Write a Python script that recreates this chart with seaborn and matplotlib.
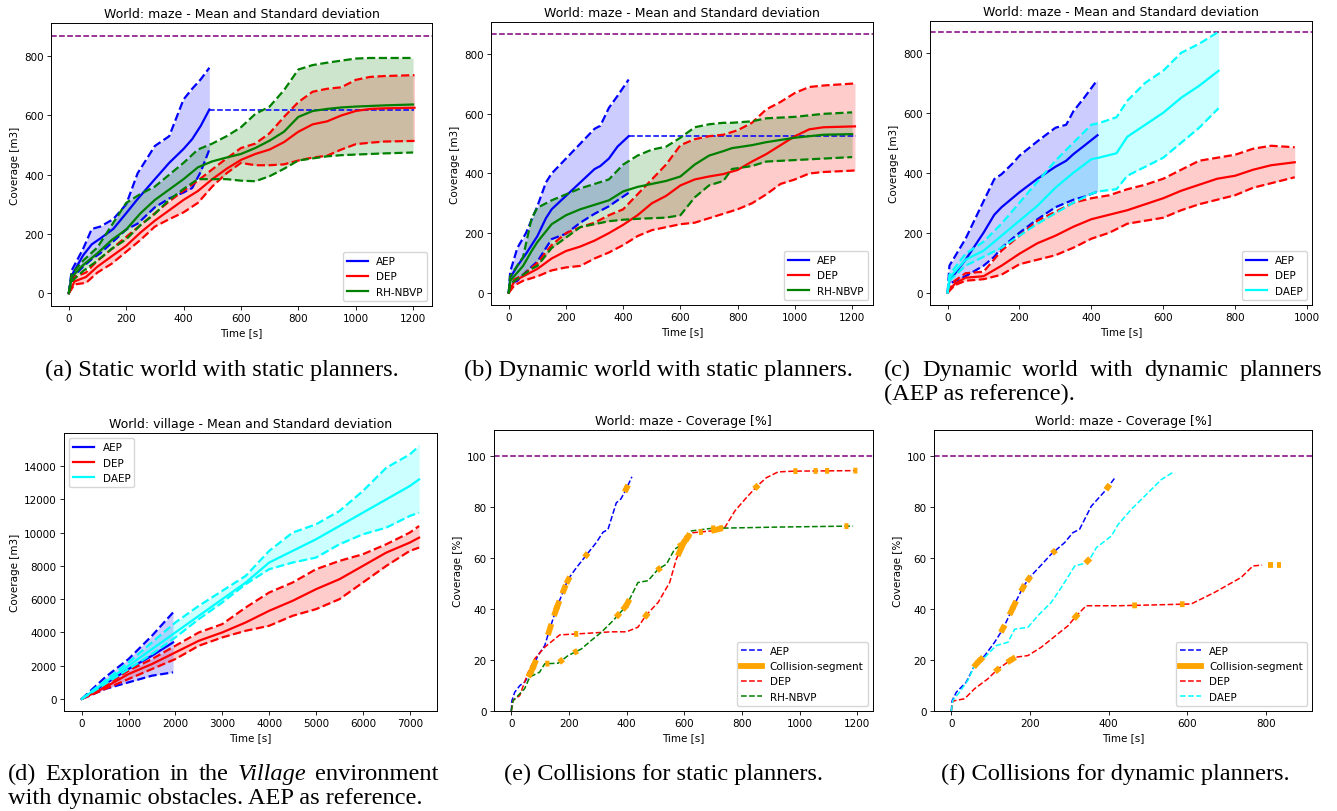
import numpy as np
import matplotlib
matplotlib.use("Agg")
import matplotlib.pyplot as plt
from matplotlib.lines import Line2D
import seaborn as sns

# ------------------------------------------------------------------ data
GOAL_M3 = 868
GOAL_PCT = 100

# (a) static world, static planners  (mean / upper / lower of coverage [m3])
a_aep_t = [0, 10, 50, 80, 110, 155, 200, 240, 300, 350, 400, 430, 460, 490]
a_aep_m = [0, 60, 128, 165, 185, 217, 270, 318, 385, 440, 487, 520, 565, 620]
a_aep_u = [0, 77, 150, 217, 225, 250, 300, 405, 497, 530, 654, 690, 722, 761]
a_aep_l = [0, 50, 90, 115, 135, 175, 215, 235, 290, 320, 340, 355, 410, 485]
a_aep_ext_t = [490, 1205]
a_aep_ext_v = [620, 620]

a_dep_t = [0, 20, 60, 100, 150, 200, 250, 300, 350, 400, 450, 500, 550, 600, 650, 700, 750, 800, 850, 900, 950, 1000, 1050, 1100, 1205]
a_dep_m = [0, 40, 55, 90, 125, 160, 205, 245, 280, 315, 345, 385, 420, 450, 470, 485, 510, 545, 570, 580, 600, 615, 622, 624, 626]
a_dep_u = [0, 55, 70, 110, 150, 190, 230, 270, 310, 346, 380, 418, 455, 490, 505, 540, 595, 645, 680, 690, 695, 720, 730, 733, 736]
a_dep_l = [0, 30, 35, 70, 100, 140, 180, 225, 250, 273, 305, 360, 405, 440, 432, 432, 435, 448, 458, 464, 485, 503, 508, 512, 514]

a_rh_t = [0, 10, 50, 100, 150, 200, 250, 300, 350, 400, 450, 500, 550, 600, 650, 700, 750, 800, 850, 900, 950, 1000, 1050, 1100, 1200]
a_rh_m = [0, 55, 95, 135, 180, 215, 270, 315, 350, 385, 425, 445, 458, 470, 490, 515, 545, 595, 615, 622, 627, 630, 632, 634, 637]
a_rh_u = [0, 65, 110, 155, 230, 305, 335, 360, 400, 440, 485, 505, 530, 560, 605, 630, 685, 755, 770, 778, 785, 792, 794, 794, 794]
a_rh_l = [0, 40, 75, 110, 150, 182, 230, 268, 315, 352, 385, 385, 385, 380, 378, 395, 420, 448, 455, 462, 466, 468, 470, 472, 475]

# (b) dynamic world, static planners
b_aep_t = [0, 5, 30, 60, 100, 130, 150, 200, 250, 300, 320, 350, 380, 419]
b_aep_m = [0, 50, 90, 130, 190, 250, 280, 325, 370, 415, 425, 450, 490, 525]
b_aep_u = [0, 70, 150, 200, 290, 370, 400, 450, 500, 550, 560, 620, 660, 715]
b_aep_l = [0, 30, 40, 70, 105, 150, 180, 198, 235, 265, 275, 290, 310, 335]
b_aep_ext_t = [419, 1212]
b_aep_ext_v = [525, 525]

b_dep_t = [0, 20, 50, 100, 150, 200, 250, 300, 350, 400, 450, 500, 550, 600, 650, 700, 750, 800, 850, 900, 950, 1000, 1050, 1100, 1210]
b_dep_m = [0, 40, 55, 80, 115, 140, 155, 175, 200, 228, 260, 300, 325, 360, 380, 390, 398, 412, 440, 465, 495, 525, 548, 555, 558]
b_dep_u = [0, 45, 60, 100, 160, 200, 220, 235, 260, 280, 330, 380, 430, 495, 515, 525, 530, 545, 570, 615, 640, 670, 690, 695, 702]
b_dep_l = [0, 25, 40, 55, 75, 85, 90, 115, 135, 160, 190, 210, 220, 230, 235, 250, 265, 280, 300, 330, 365, 380, 400, 405, 410]

b_rh_t = [0, 5, 50, 80, 100, 150, 200, 250, 300, 350, 400, 450, 500, 550, 600, 650, 700, 750, 780, 850, 900, 1000, 1100, 1200]
b_rh_m = [0, 40, 90, 140, 170, 230, 260, 280, 295, 310, 340, 355, 365, 375, 390, 430, 460, 475, 485, 495, 505, 520, 530, 532]
b_rh_u = [0, 55, 120, 250, 285, 310, 330, 350, 365, 380, 430, 460, 480, 490, 520, 555, 565, 570, 570, 575, 585, 590, 600, 605]
b_rh_l = [0, 30, 60, 80, 90, 150, 185, 220, 230, 240, 245, 248, 250, 252, 260, 320, 360, 375, 415, 425, 440, 445, 450, 455]

# (c) dynamic world, dynamic planners
c_aep_t = [0, 5, 50, 100, 130, 150, 180, 200, 250, 300, 330, 350, 380, 417]
c_aep_m = [0, 40, 110, 200, 260, 285, 315, 335, 380, 420, 440, 462, 490, 525]
c_aep_u = [0, 90, 180, 305, 379, 395, 430, 457, 505, 550, 560, 605, 650, 710]
c_aep_l = [0, 30, 55, 90, 120, 150, 180, 200, 245, 285, 300, 310, 320, 337]

c_dep_t = [0, 20, 50, 100, 150, 200, 250, 300, 350, 400, 450, 500, 550, 600, 650, 700, 750, 800, 850, 900, 966]
c_dep_m = [0, 30, 50, 55, 90, 130, 165, 190, 220, 245, 260, 275, 295, 315, 340, 360, 380, 390, 410, 425, 435]
c_dep_u = [0, 40, 65, 70, 140, 190, 240, 270, 300, 315, 325, 345, 360, 380, 410, 440, 450, 460, 480, 490, 485]
c_dep_l = [0, 25, 40, 45, 60, 95, 110, 125, 150, 180, 200, 230, 240, 250, 275, 295, 310, 325, 350, 365, 385]

c_daep_t = [0, 5, 50, 100, 150, 200, 250, 300, 350, 400, 420, 470, 500, 550, 600, 650, 700, 754]
c_daep_m = [0, 50, 110, 140, 190, 240, 290, 350, 400, 445, 450, 465, 520, 560, 600, 650, 690, 740]
c_daep_u = [0, 60, 130, 170, 230, 300, 370, 440, 500, 560, 565, 585, 640, 700, 740, 800, 830, 870]
c_daep_l = [0, 40, 90, 120, 150, 190, 230, 265, 300, 330, 338, 345, 390, 420, 450, 500, 550, 615]

# (d) village world
d_aep_t = [0, 500, 1000, 1500, 1950]
d_aep_m = [0, 900, 1800, 2600, 3400]
d_aep_u = [0, 1300, 2400, 3800, 5200]
d_aep_l = [0, 600, 1000, 1400, 1600]

d_t = [0, 500, 1000, 1500, 2000, 2500, 3000, 3500, 4000, 4500, 5000, 5500, 6000, 6500, 7000, 7200]
d_dep_m = [0, 700, 1500, 2100, 2800, 3500, 4000, 4600, 5300, 5900, 6600, 7200, 8000, 8800, 9400, 9700]
d_dep_u = [0, 800, 1700, 2400, 3200, 4000, 4500, 5500, 6400, 7000, 7800, 8300, 8700, 9300, 10000, 10400]
d_dep_l = [0, 600, 1200, 1800, 2400, 3200, 3700, 4100, 4400, 5000, 5400, 6000, 7000, 8000, 8900, 9100]
d_daep_m = [0, 1000, 2000, 3000, 4000, 5000, 6000, 7000, 8200, 8900, 9600, 10400, 11200, 12000, 12800, 13200]
d_daep_u = [0, 1100, 2200, 3400, 4600, 5600, 6500, 7400, 8900, 10000, 10500, 11300, 12500, 13900, 14700, 15200]
d_daep_l = [0, 900, 1800, 2700, 3700, 4800, 5800, 6900, 7800, 8200, 8500, 9300, 9900, 10300, 11000, 11200]

# (e) collisions, static planners (coverage %)
e_aep_t = [0, 2, 12, 30, 46, 69, 92, 116, 133, 156, 183, 197, 225, 260, 295, 318, 335, 364, 380, 399, 418]
e_aep_v = [0, 4, 7.4, 10, 11.3, 15.2, 21.7, 25.6, 32, 40, 47.7, 51.6, 56, 61, 66, 70, 71, 81.5, 83, 87, 91.7]
e_dep_t = [0, 6, 29, 58, 81, 116, 168, 231, 347, 399, 439, 468, 509, 549, 572, 592, 607, 630, 694, 740, 775, 815, 850, 884, 925, 983, 1197]
e_dep_v = [0, 4.2, 6, 15, 20.4, 25, 29.8, 30.2, 31, 31, 32.8, 37.6, 42.5, 50.3, 59.4, 64.6, 67.9, 69.8, 70.5, 71.8, 78.3, 83.5, 87.8, 91.3, 93.6, 93.9, 94.1]
e_rh_t = [0, 6, 46, 64, 98, 116, 162, 197, 243, 277, 312, 353, 399, 439, 474, 509, 538, 566, 601, 624, 694, 925, 1185]
e_rh_v = [0, 4, 8.7, 13.3, 15.2, 18.5, 18.7, 21.7, 24.3, 27.6, 30.8, 35.4, 41.2, 50.3, 51, 55.5, 57.5, 63.3, 65.9, 70.5, 71.5, 72, 72.4]
e_aep_col = [64, 72, 80, 133, 154, 161, 183, 197, 260, 399]
e_dep_col = [225, 468, 584, 595, 605, 612, 657, 700, 712, 722, 850, 985, 1055, 1095, 1193]
e_rh_col = [125, 173, 223, 370, 393, 403, 512, 587, 612, 700, 728, 1162]

# (f) collisions, dynamic planners (coverage %)
f_aep_t = [0, 2, 13, 38, 59, 85, 110, 131, 153, 182, 199, 229, 254, 288, 309, 326, 356, 390, 418]
f_aep_v = [0, 4, 7.4, 11.3, 17.8, 21.7, 26.9, 32, 39.3, 48.4, 52.3, 57.2, 61.4, 65.9, 69.8, 71.1, 80.2, 86, 91.7]
f_dep_t = [0, 4, 34, 59, 93, 119, 161, 195, 229, 271, 297, 318, 343, 424, 508, 610, 669, 737, 767, 790]
f_dep_v = [0, 3.9, 4.8, 8.7, 12.6, 16.5, 21, 21.7, 25, 30.2, 33.4, 37.3, 41.2, 41.2, 41.5, 41.9, 46.4, 52.3, 56.8, 57.1]
f_daep_t = [0, 4, 21, 42, 59, 85, 114, 144, 161, 195, 220, 254, 280, 314, 347, 369, 407, 424, 458, 500, 534, 564]
f_daep_v = [0, 4.2, 7.4, 12, 17.8, 21, 25.6, 26.9, 32, 32.8, 37.3, 42.5, 48.4, 56.8, 58.1, 64, 68.5, 73, 79, 85.4, 90.6, 93.5]
f_aep_col = [62, 70, 76, 131, 153, 160, 182, 197, 261, 398]
f_dep_col = [117, 148, 157, 317, 466, 587, 812, 833]
f_daep_col = [347]

captions = {
    "a": "(a) Static world with static planners.",
    "b": "(b) Dynamic world with static planners.",
    "c1": ["(c)", "Dynamic", "world", "with", "dynamic", "planners"],
    "c2": "(AEP as reference).",
    "d1": ["(d)", "Exploration", "in", "the", "Village", "environment"],
    "d2": "with dynamic obstacles. AEP as reference.",
    "e": "(e) Collisions for static planners.",
    "f": "(f) Collisions for dynamic planners.",
}

# ------------------------------------------------------------------ style
FS = 7.5
plt.rcParams.update({
    "font.family": ["DejaVu Sans"],
    "font.size": FS,
    "axes.titlesize": 9.0,
    "axes.labelsize": FS,
    "xtick.labelsize": FS,
    "ytick.labelsize": FS,
    "legend.fontsize": FS,
    "axes.linewidth": 0.7,
    "xtick.major.size": 2.6,
    "ytick.major.size": 2.6,
    "xtick.major.width": 0.6,
    "ytick.major.width": 0.6,
    "xtick.major.pad": 2.6,
    "ytick.major.pad": 2.6,
    "axes.titlepad": 4.5,
    "axes.labelpad": 3.0,
})

W, H = 1337, 812
fig = plt.figure(figsize=(W / 100, H / 100), dpi=100)


def add_ax(x0, y0, x1, y1):
    return fig.add_axes([x0 / W, 1 - y1 / H, (x1 - x0) / W, (y1 - y0) / H])


def line(ax, t, v, color, lw, ls="-", z=2):
    sns.lineplot(x=t, y=v, ax=ax, color=color, linewidth=lw, linestyle=ls,
                 sort=False, zorder=z)


def band(ax, t, m, u, l, color):
    ax.fill_between(t, l, u, color=color, alpha=0.2, linewidth=0)
    line(ax, t, u, color, 1.6, "--")
    line(ax, t, l, color, 1.6, "--")
    line(ax, t, m, color, 1.6, "-")


def collisions(ax, t, v, times, half):
    for tc in times:
        ts = [tc - half, tc + half]
        vs = list(np.interp(ts, t, v))
        sns.lineplot(x=ts, y=vs, ax=ax, color="orange", linewidth=4.2,
                     sort=False, zorder=4, solid_capstyle="butt")


def finish(ax, title, ylabel, xlim, ylim, xticks, yticks):
    ax.set_title(title)
    ax.set_xlabel("Time [s]")
    ax.set_ylabel(ylabel)
    ax.set_xlim(*xlim)
    ax.set_ylim(*ylim)
    ax.set_xticks(xticks)
    ax.set_yticks(yticks)


def solid_handles(names, colors):
    return [Line2D([], [], color=c, lw=1.6) for c in colors], names


# ---- (a)
ax = add_ax(51, 24, 432, 307)
ax.axhline(GOAL_M3, color="purple", lw=1.1, ls="--")
band(ax, a_aep_t, a_aep_m, a_aep_u, a_aep_l, "blue")
line(ax, a_aep_ext_t, a_aep_ext_v, "blue", 1.1, "--")
band(ax, a_dep_t, a_dep_m, a_dep_u, a_dep_l, "red")
band(ax, a_rh_t, a_rh_m, a_rh_u, a_rh_l, "green")
finish(ax, "World: maze - Mean and Standard deviation", "Coverage [m3]",
       (-62, 1266), (-43, 912), range(0, 1201, 200), range(0, 801, 200))
h, n = solid_handles(["AEP", "DEP", "RH-NBVP"], ["blue", "red", "green"])
ax.legend(h, n, loc="lower right")

# ---- (b)
ax = add_ax(491, 23, 873, 306)
ax.axhline(GOAL_M3, color="purple", lw=1.1, ls="--")
band(ax, b_aep_t, b_aep_m, b_aep_u, b_aep_l, "blue")
line(ax, b_aep_ext_t, b_aep_ext_v, "blue", 1.1, "--")
band(ax, b_dep_t, b_dep_m, b_dep_u, b_dep_l, "red")
band(ax, b_rh_t, b_rh_m, b_rh_u, b_rh_l, "green")
finish(ax, "World: maze - Mean and Standard deviation", "Coverage [m3]",
       (-62, 1273), (-41, 908), range(0, 1201, 200), range(0, 801, 200))
h, n = solid_handles(["AEP", "DEP", "RH-NBVP"], ["blue", "red", "green"])
ax.legend(h, n, loc="lower right")

# ---- (c)
ax = add_ax(930, 22, 1312, 306)
ax.axhline(GOAL_M3, color="purple", lw=1.1, ls="--")
band(ax, c_aep_t, c_aep_m, c_aep_u, c_aep_l, "blue")
band(ax, c_dep_t, c_dep_m, c_dep_u, c_dep_l, "red")
band(ax, c_daep_t, c_daep_m, c_daep_u, c_daep_l, "cyan")
finish(ax, "World: maze - Mean and Standard deviation", "Coverage [m3]",
       (-49, 1014), (-41, 906), range(0, 1001, 200), range(0, 801, 200))
h, n = solid_handles(["AEP", "DEP", "DAEP"], ["blue", "red", "cyan"])
ax.legend(h, n, loc="lower right")

# ---- (d)
ax = add_ax(64, 434, 437, 712)
band(ax, d_aep_t, d_aep_m, d_aep_u, d_aep_l, "blue")
band(ax, d_t, d_dep_m, d_dep_u, d_dep_l, "red")
band(ax, d_t, d_daep_m, d_daep_u, d_daep_l, "cyan")
finish(ax, "World: village - Mean and Standard deviation", "Coverage [m3]",
       (-377, 7582), (-723, 15990), range(0, 7001, 1000), range(0, 14001, 2000))
h, n = solid_handles(["AEP", "DEP", "DAEP"], ["blue", "red", "cyan"])
ax.legend(h, n, loc="upper left")


def dashed_handles(names, colors):
    hs = []
    for nm, c in zip(names, colors):
        if nm == "Collision-segment":
            hs.append(Line2D([], [], color="orange", lw=4.2))
        else:
            hs.append(Line2D([], [], color=c, lw=1.1, ls="--"))
    return hs, names


# ---- (e)
ax = add_ax(494, 431, 873, 712)
ax.axhline(GOAL_PCT, color="purple", lw=1.1, ls="--")
line(ax, e_aep_t, e_aep_v, "blue", 1.1, "--")
line(ax, e_dep_t, e_dep_v, "red", 1.1, "--")
line(ax, e_rh_t, e_rh_v, "green", 1.1, "--")
collisions(ax, e_aep_t, e_aep_v, e_aep_col, 6)
collisions(ax, e_dep_t, e_dep_v, e_dep_col, 7)
collisions(ax, e_rh_t, e_rh_v, e_rh_col, 7)
finish(ax, "World: maze - Coverage [%]", "Coverage [%]",
       (-60, 1254), (0, 110), range(0, 1201, 200), range(0, 101, 20))
h, n = dashed_handles(["AEP", "Collision-segment", "DEP", "RH-NBVP"],
                      ["blue", "orange", "red", "green"])
ax.legend(h, n, loc="lower right")

# ---- (f)
ax = add_ax(934, 431, 1312, 712)
ax.axhline(GOAL_PCT, color="purple", lw=1.1, ls="--")
line(ax, f_aep_t, f_aep_v, "blue", 1.1, "--")
line(ax, f_dep_t, f_dep_v, "red", 1.1, "--")
line(ax, f_daep_t, f_daep_v, "cyan", 1.1, "--")
collisions(ax, f_aep_t, f_aep_v, f_aep_col, 5)
collisions(ax, f_dep_t, f_dep_v, f_dep_col, 6)
collisions(ax, f_daep_t, f_daep_v, f_daep_col, 6)
finish(ax, "World: maze - Coverage [%]", "Coverage [%]",
       (-44, 917), (0, 110), range(0, 801, 200), range(0, 101, 20))
h, n = dashed_handles(["AEP", "Collision-segment", "DEP", "DAEP"],
                      ["blue", "orange", "red", "cyan"])
ax.legend(h, n, loc="lower right")

# ------------------------------------------------------------------ captions
CAP = dict(family="Liberation Serif", fontsize=17.6, va="baseline")


def fy(y):
    return 1 - y / H


renderer = fig.canvas.get_renderer()


def justified(words, x0, x1, y, italic=()):
    txts = [fig.text(0, fy(y), w, ha="left",
                     style=("italic" if w in italic else "normal"), **CAP)
            for w in words]
    widths = [t.get_window_extent(renderer=renderer).width for t in txts]
    gap = (x1 - x0 - sum(widths)) / (len(words) - 1)
    x = x0
    for t, w in zip(txts, widths):
        t.set_x(x / W)
        x += w + gap


fig.text(222 / W, fy(376), captions["a"], ha="center", **CAP)
fig.text(658 / W, fy(376), captions["b"], ha="center", **CAP)
justified(captions["c1"], 884, 1322, 376)
fig.text(884 / W, fy(400), captions["c2"], ha="left", **CAP)
justified(captions["d1"], 8, 439, 780, italic=("Village",))
fig.text(8 / W, fy(804), captions["d2"], ha="left", **CAP)
fig.text(664 / W, fy(780), captions["e"], ha="center", **CAP)
fig.text(1115 / W, fy(780), captions["f"], ha="center", **CAP)

fig.savefig("out.png", dpi=100)
